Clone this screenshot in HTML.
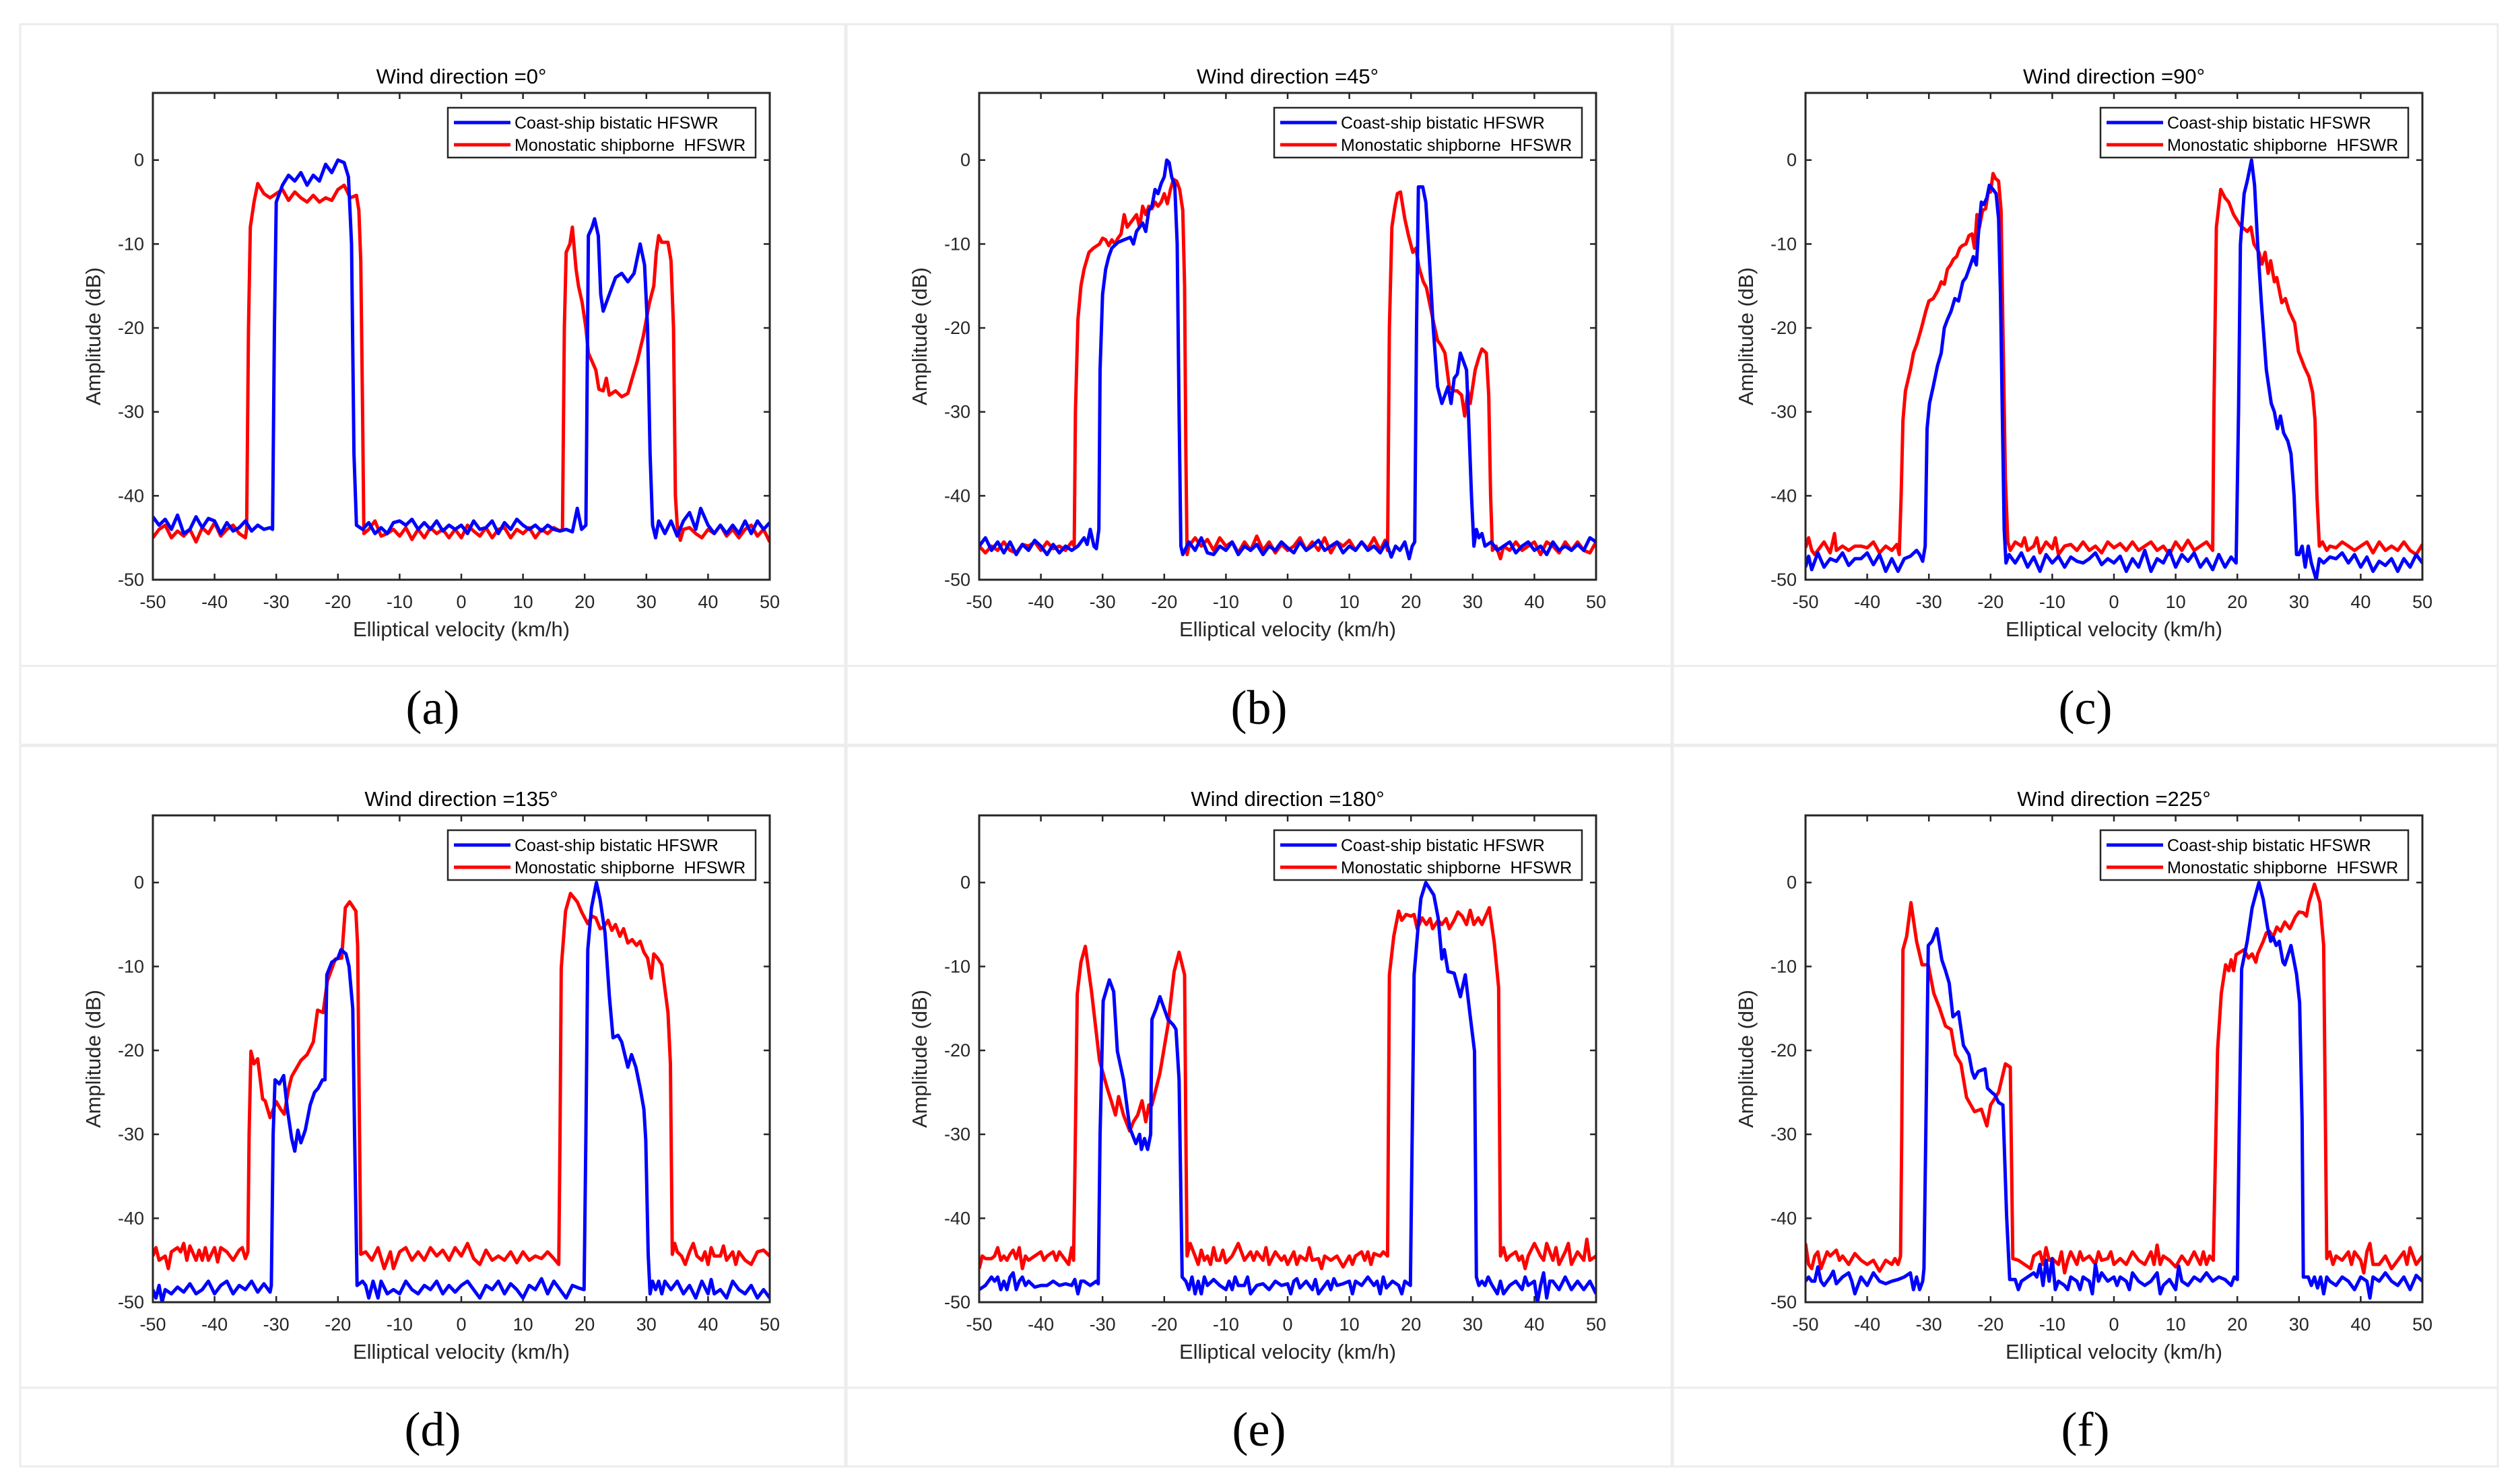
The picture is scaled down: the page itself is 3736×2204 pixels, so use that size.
<!DOCTYPE html>
<html><head><meta charset="utf-8"><style>
html,body{margin:0;padding:0;background:#fff;}
svg{display:block;font-family:"Liberation Sans",Arial,sans-serif;}
text{white-space:pre;}
</style></head><body>
<svg id="fig" width="3736" height="2204" viewBox="0 0 3736 2204" xmlns="http://www.w3.org/2000/svg">
<rect x="0" y="0" width="3736" height="2204" fill="#fff"/>
<g id="cells"></g>
<g id="panels"></g>
</svg>
<script>
const xTicks=[-50,-40,-30,-20,-10,0,10,20,30,40,50];
const yTicks=[0,-10,-20,-30,-40,-50];
const titles=["Wind direction =0°","Wind direction =45°","Wind direction =90°","Wind direction =135°","Wind direction =180°","Wind direction =225°"];
const letters=["(a)","(b)","(c)","(d)","(e)","(f)"];
const legendLabels=["Coast-ship bistatic HFSWR","Monostatic shipborne  HFSWR"];

const bistaticA=[[-50,-42.5],[-49,-43.5],[-48,-42.8],[-47,-44],[-46,-42.3],[-45,-44.5],[-44,-44],[-43,-42.5],[-42,-43.8],[-41,-42.7],[-40,-43],[-39,-44.5],[-38,-43.2],[-37,-44.2],[-36,-43.8],[-35,-43],[-34,-44.2],[-33,-43.5],[-32,-44],[-31,-43.8],[-30.6,-44],[-30.3,-20],[-30,-5],[-29,-3],[-28,-1.8],[-27,-2.5],[-26,-1.5],[-25,-3],[-24,-1.8],[-23,-2.5],[-22,-0.5],[-21,-1.5],[-20,0],[-19,-0.3],[-18.3,-2],[-17.8,-10],[-17.4,-35],[-17,-43.5],[-16,-44],[-15,-43.2],[-14,-44.5],[-13,-43.8],[-12,-44.5],[-11,-43.2],[-10,-43],[-9,-43.5],[-8,-42.8],[-7,-44],[-6,-43.2],[-5,-44],[-4,-43],[-3,-44.2],[-2,-43.5],[-1,-44],[0,-43.5],[1,-44.5],[2,-43],[3,-44],[4,-43.8],[5,-43],[6,-44.5],[7,-43.2],[8,-44],[9,-42.8],[10,-43.5],[11,-44],[12,-43.5],[13,-44.2],[14,-43.5],[15,-44],[16,-44.2],[17,-44],[18,-44.3],[18.8,-41.5],[19.5,-44],[20.2,-43.5],[20.6,-9],[21.2,-8],[21.6,-7],[22.2,-9],[22.6,-16],[23,-18],[24,-16],[25,-14],[26,-13.5],[27,-14.5],[28,-13.5],[29,-10],[29.7,-12.5],[30.2,-20],[30.6,-35],[31,-43.5],[31.5,-45],[32,-43],[33,-44.5],[34,-43],[35,-44.8],[36,-43],[37,-42],[38,-44],[38.8,-41.5],[40,-43.5],[41,-44.5],[42,-43.5],[43,-44.5],[44,-43.5],[45,-44.5],[46,-43],[47,-44.5],[48,-43],[49,-44],[50,-43.2]];
const monoA=[[-50,-45],[-49,-44],[-48,-43.5],[-47,-45],[-46,-44.2],[-45,-44.8],[-44,-44],[-43,-45.5],[-42,-43.8],[-41,-44.5],[-40,-43.2],[-39,-44.8],[-38,-44],[-37,-43.5],[-36,-44.5],[-35,-45],[-34.8,-44],[-34.5,-20],[-34.2,-8],[-33.6,-5],[-33,-2.8],[-32,-4],[-31,-4.5],[-30,-4],[-29,-3.5],[-28,-4.8],[-27,-3.8],[-26,-4.5],[-25,-5],[-24,-4.2],[-23,-5],[-22,-4.5],[-21,-4.8],[-20,-3.5],[-19,-3],[-18,-4.5],[-17,-4.2],[-16.6,-6],[-16.3,-12],[-16,-30],[-15.8,-44.5],[-15,-44],[-14,-43],[-13,-44.8],[-12,-44.5],[-11,-44],[-10,-44.8],[-9,-43.8],[-8,-45.2],[-7,-44],[-6,-45],[-5,-43.8],[-4,-44.5],[-3,-44],[-2,-45],[-1,-44],[0,-45],[1,-43.5],[2,-44.2],[3,-44.8],[4,-43.8],[5,-45],[6,-44],[7,-43.8],[8,-45],[9,-44],[10,-44.5],[11,-43.8],[12,-45],[13,-44],[14,-44.5],[15,-43.8],[16,-44.2],[16.4,-44],[16.7,-20],[17,-11],[17.6,-10],[18,-8],[18.6,-13],[19,-15],[19.6,-17],[20.2,-20],[20.6,-23],[21.2,-24],[21.8,-25],[22.3,-27.3],[23,-27.5],[23.5,-26],[24,-28],[25,-27.5],[26,-28.2],[27,-27.8],[27.5,-26.5],[28.5,-24],[29.5,-21],[30.5,-17],[31.2,-15],[31.6,-11],[32,-9],[32.5,-9.8],[33.5,-9.8],[34,-12],[34.4,-20],[34.7,-40],[35,-43.5],[35.5,-45.3],[36,-44],[37,-43.8],[38,-44.5],[39,-45],[40,-44],[41,-44.5],[42,-43.5],[43,-44.8],[44,-44],[45,-45],[46,-44],[47,-43.5],[48,-44.8],[49,-44],[50,-45.5]];
const bistaticB=[[-50,-46],[-49,-45],[-48,-46.5],[-47,-45.5],[-46,-46.8],[-45,-45.5],[-44,-47],[-43,-45.8],[-42,-46.5],[-41,-45.3],[-40,-46],[-39,-47],[-38,-45.8],[-37,-46.8],[-36,-46],[-35,-46.5],[-34,-46],[-33,-45],[-32.5,-45.8],[-32,-44],[-31.4,-46],[-31,-46.3],[-30.6,-44],[-30.4,-25],[-30,-16],[-29.5,-13],[-29,-11.5],[-28.5,-10.5],[-27.5,-9.8],[-26.5,-9.5],[-25.5,-9.2],[-25,-10],[-24.5,-8.5],[-23.5,-7.5],[-23,-8.5],[-22.5,-6],[-22,-5.5],[-21.5,-3.5],[-21,-4],[-20.5,-2.8],[-20,-2],[-19.6,0],[-19.2,-0.3],[-18.8,-2],[-18.3,-3],[-17.9,-10],[-17.6,-30],[-17.3,-46],[-17,-47],[-16,-45.5],[-15,-46.5],[-14,-45],[-13,-46.8],[-12,-47],[-11,-46],[-10,-46.5],[-9,-45.5],[-8,-47],[-7,-46],[-6,-46.5],[-5,-45.8],[-4,-47],[-3,-46],[-2,-46.5],[-1,-45.5],[0,-46.2],[1,-46.8],[2,-45.5],[3,-46.5],[4,-46],[5,-45.3],[6,-46.5],[7,-46],[8,-45.5],[9,-46.8],[10,-46],[11,-46.5],[12,-45.5],[13,-46.5],[14,-46],[15,-46.8],[16,-45.5],[16.8,-47.3],[17.5,-46],[18.2,-46.5],[19,-45.5],[19.7,-47.5],[20.2,-46],[20.6,-45.5],[20.9,-20],[21.2,-3.2],[21.9,-3.2],[22.4,-5],[23,-12],[23.6,-20],[24.3,-27],[25,-29],[25.5,-28],[26,-27],[26.5,-29],[27,-26],[27.5,-25.5],[28,-23],[28.5,-24],[29,-25],[29.3,-30],[29.8,-40],[30.2,-46],[30.6,-44],[31,-45],[31.5,-44.5],[32,-46],[33,-45.5],[34,-46.5],[35,-46],[36,-45.5],[37,-46.8],[38,-46],[39,-45.5],[40,-46.5],[41,-46],[42,-47],[43,-45.5],[44,-46.5],[45,-46],[46,-46.5],[47,-45.8],[48,-46.5],[49,-45],[50,-45.5]];
const monoB=[[-50,-46],[-49,-46.8],[-48,-46],[-47,-46.5],[-46,-45.5],[-45,-46.5],[-44,-46.8],[-43,-45.8],[-42,-46],[-41,-45.5],[-40,-46.5],[-39,-45.5],[-38,-46.3],[-37,-46],[-36,-46.5],[-35,-45.5],[-34.6,-46],[-34.4,-30],[-34,-19],[-33.5,-15],[-33,-13],[-32.2,-11],[-31.5,-10.5],[-30.5,-10],[-30,-9.3],[-29.5,-9.5],[-29,-10.2],[-28.5,-9.5],[-28,-10],[-27.5,-9.3],[-27,-8.8],[-26.5,-6.5],[-26,-8],[-25.5,-7.5],[-25,-7],[-24.5,-6.5],[-24,-8],[-23.5,-5.5],[-23,-6.5],[-22.5,-5.5],[-22,-5.8],[-21.5,-5],[-21,-5.5],[-20.5,-5],[-20,-4],[-19.5,-5.2],[-19,-3.5],[-18.5,-2.3],[-18,-2.5],[-17.5,-3.5],[-17,-6],[-16.7,-15],[-16.5,-35],[-16.3,-47],[-16,-46],[-15,-45],[-14,-46],[-13,-45.2],[-12,-46.5],[-11,-45],[-10,-46],[-9,-45.5],[-8,-46.8],[-7,-45.5],[-6,-46.5],[-5,-44.8],[-4,-46.5],[-3,-45.5],[-2,-46.8],[-1,-45.8],[0,-46.5],[1,-46],[2,-45],[3,-46.5],[4,-45.5],[5,-46.5],[6,-45],[7,-46.8],[8,-45.5],[9,-46],[10,-45.3],[11,-46.5],[12,-45.5],[13,-46.3],[14,-45],[15,-46.5],[15.8,-45.3],[16.2,-46.5],[16.5,-20],[16.9,-8],[17.4,-5.5],[17.8,-4],[18.3,-3.8],[19,-7],[19.6,-9],[20.3,-11],[20.8,-10.5],[21.3,-12.8],[22,-14.5],[22.5,-15.2],[23,-17],[23.7,-19.5],[24.3,-21.5],[24.8,-22],[25.5,-23],[26.2,-27],[27,-27.5],[27.5,-27.5],[28.2,-28],[28.7,-30.5],[29.2,-27.5],[29.6,-29],[30.4,-25],[31,-23.5],[31.5,-22.5],[32.2,-23],[32.6,-28],[32.9,-40],[33.2,-46.5],[33.8,-46],[34.5,-47.5],[35,-46],[36,-46.5],[37,-45.5],[38,-46.5],[39,-46],[40,-45.5],[41,-47],[42,-45.5],[43,-46],[44,-46.8],[45,-45.5],[46,-46.5],[47,-45.5],[48,-46.5],[49,-46.8],[50,-45.5]];
const bistaticC=[[-50,-48.5],[-49.5,-47.2],[-49,-48.8],[-48,-46.8],[-47,-48.5],[-46,-47.5],[-45,-47.8],[-44,-46.8],[-43,-48.3],[-42,-47.5],[-41,-47.5],[-40,-46.8],[-39,-48.2],[-38,-47],[-37,-49],[-36,-47.5],[-35,-49],[-34,-47.5],[-33,-47.2],[-32,-46.5],[-31.5,-47],[-31,-47.8],[-30.6,-46],[-30.3,-32],[-29.9,-29],[-29.3,-27],[-28.6,-24.5],[-28,-23],[-27.5,-20],[-27,-19],[-26.4,-18],[-25.8,-16.5],[-25.2,-16.8],[-24.5,-14.5],[-24,-14],[-23.5,-13],[-22.8,-11.5],[-22.3,-12.5],[-22,-9],[-21.5,-5],[-21.1,-5.3],[-20.6,-4.5],[-20.2,-3],[-19.6,-3.5],[-19.1,-4],[-18.7,-7],[-18.4,-16],[-18.1,-30],[-17.8,-44],[-17.5,-48],[-17,-47],[-16,-48],[-15,-46.8],[-14,-48.5],[-13,-47.3],[-12,-49],[-11,-47],[-10,-48],[-9,-47.2],[-8,-48.5],[-7,-47.3],[-6,-47.8],[-5,-48],[-4,-47.5],[-3,-46.8],[-2,-48.2],[-1,-47.5],[0,-48],[1,-47.2],[2,-49],[3,-47.5],[4,-48.5],[5,-46.5],[6,-49],[7,-47.5],[8,-48],[9,-46.5],[10,-48.5],[11,-47],[12,-47.8],[13,-46.8],[14,-48.5],[15,-47.5],[16,-48.8],[17,-47],[18,-48.5],[19,-47.3],[19.8,-48],[20.2,-30],[20.5,-10],[21.1,-4],[21.6,-2.5],[22.3,0],[22.8,-3],[23.3,-10],[23.9,-17],[24.7,-25],[25.5,-29],[26,-30],[26.5,-32],[27,-30.5],[27.5,-32.5],[28.2,-33.5],[28.7,-35],[29.2,-40],[29.6,-47],[30,-47],[30.5,-46],[31,-48.5],[31.5,-46],[32,-48],[32.8,-50],[33.3,-47.5],[34,-48],[35,-47.3],[36,-47.5],[37,-46.8],[38,-48],[39,-47],[40,-48.5],[41,-47.3],[42,-49],[43,-47.8],[44,-48.3],[45,-47.5],[46,-49],[47,-47.5],[48,-48.5],[49,-47],[50,-48]];
const monoC=[[-50,-46.2],[-49.5,-45],[-49,-46.5],[-48.5,-47],[-48,-46.5],[-47,-45.5],[-46,-46.8],[-45.3,-44.5],[-45,-46.5],[-44,-46],[-43,-46.5],[-42,-46],[-41,-46],[-40,-46.2],[-39,-45.5],[-38,-46.8],[-37,-46],[-36,-46.5],[-35.2,-45.8],[-34.8,-47],[-34.5,-40],[-34.2,-31],[-33.8,-27.5],[-33,-25],[-32.5,-23],[-31.9,-21.8],[-31.2,-20],[-30.5,-18],[-30,-16.8],[-29.3,-16.5],[-28.5,-15.5],[-28,-14.5],[-27.5,-14.8],[-27,-13],[-26.5,-12.5],[-26,-11.8],[-25.5,-11.5],[-25,-10.5],[-24.6,-10.2],[-24,-10],[-23.5,-9],[-23,-8.8],[-22.6,-10.5],[-22.2,-6.5],[-21.8,-8],[-21.3,-6],[-20.8,-5.8],[-20.4,-3.9],[-20,-3.8],[-19.6,-1.6],[-19.2,-2.2],[-18.7,-2.5],[-18.3,-6],[-18,-20],[-17.6,-38],[-17.2,-45.5],[-16.8,-46.5],[-16,-45.5],[-15,-46],[-14.5,-45],[-14,-46.5],[-13,-46],[-12.5,-45],[-12,-46.8],[-11,-45.5],[-10,-46.3],[-9.5,-45],[-9,-47],[-8,-46],[-7,-45.8],[-6,-46.5],[-5,-45.5],[-4,-46.5],[-3,-46],[-2,-46.8],[-1,-45.5],[0,-46.2],[1,-45.7],[2,-46.5],[3,-45.5],[4,-46.5],[5,-46],[6,-45.5],[7,-46.5],[8,-46],[9,-47],[10,-45.5],[11,-46.5],[12,-45.3],[13,-46.5],[14,-46],[15,-45.5],[16,-46.5],[16.2,-30],[16.6,-8],[17.3,-3.5],[18,-4.5],[18.6,-5],[19.4,-6.5],[20.5,-7.8],[21.6,-8.5],[22.2,-8],[22.7,-10],[23.5,-11],[24,-12.4],[24.5,-11],[25,-13.5],[25.4,-12],[26,-14.5],[26.4,-14],[27.2,-17],[27.8,-16.5],[28.4,-18],[29.3,-19.4],[29.9,-22.8],[30.9,-24.7],[31.6,-25.8],[32.2,-27.7],[32.6,-31],[32.9,-40],[33.3,-46],[33.8,-45.5],[34.5,-46.5],[35,-46],[36,-46.2],[37,-45.5],[38,-46],[39,-46.5],[40,-46],[41,-45.5],[42,-46.8],[43,-45.5],[44,-46.5],[45,-46],[46,-46.5],[47,-45.5],[48,-46.5],[49,-47],[50,-45.8]];
const bistaticD=[[-50,-48.5],[-49.5,-49.5],[-49,-48],[-48.5,-50],[-48,-48.5],[-47,-49],[-46,-48.2],[-45,-48.8],[-44,-47.8],[-43,-49],[-42,-48.5],[-41,-47.5],[-40,-49],[-39,-48],[-38,-47.5],[-37,-49],[-36,-48],[-35,-48.5],[-34,-47.5],[-33,-48.8],[-32,-47.8],[-31,-48.8],[-30.8,-48],[-30.5,-30],[-30.2,-23.5],[-29.5,-24],[-28.8,-23],[-28.2,-27],[-27.5,-30.5],[-27,-32],[-26.5,-29.5],[-26,-31],[-25.3,-29.5],[-24.5,-26.5],[-23.8,-25],[-23.2,-24.5],[-22.5,-23.5],[-22.1,-23.5],[-21.8,-11],[-21,-9.5],[-20,-9],[-19.5,-8],[-18.7,-8.5],[-18.2,-10],[-17.6,-15],[-17.3,-30],[-16.9,-48],[-16,-47.5],[-15.5,-48],[-15,-49.5],[-14.3,-47.5],[-13.5,-49.5],[-13,-47.5],[-12,-49],[-11,-48.5],[-10,-49],[-9,-47.5],[-8,-48.5],[-7,-49],[-6,-48],[-5,-48.5],[-4,-47.5],[-3,-49],[-2,-48],[-1,-48.8],[0,-48],[1,-47.5],[2,-48.5],[3,-49.5],[4,-48],[5,-48.5],[6,-47.5],[7,-49],[8,-47.8],[9,-48.5],[10,-49.5],[11,-48],[12,-48.5],[13,-47.2],[14,-49],[15,-47.5],[16,-48.5],[17,-49.5],[18,-48],[19,-48.3],[19.9,-48.5],[20.2,-30],[20.5,-8],[21.1,-3],[21.9,0],[22.5,-2],[23.3,-6],[24,-13.5],[24.6,-18.5],[25.4,-18.2],[26,-19],[27,-22],[27.6,-20.5],[28.3,-22],[29,-24.5],[29.6,-27],[29.9,-30.7],[30.3,-44.3],[30.6,-49],[31,-47.5],[31.5,-48.5],[32,-47.5],[32.5,-49],[33,-47.5],[34,-48.5],[35,-47.5],[36,-49],[37,-48],[38,-49.5],[39,-47.5],[40,-49],[40.5,-47.3],[41,-49],[42,-48.5],[43,-49.5],[44,-47.5],[45,-48.5],[46,-49],[47,-48],[48,-49.5],[49,-48.5],[50,-49.5]];
const monoD=[[-50,-44.5],[-49.5,-43.5],[-49,-45],[-48,-44.5],[-47.5,-46],[-47,-44],[-46,-43.5],[-45.5,-44],[-45,-43],[-44.5,-45],[-44,-43.3],[-43,-45],[-42.5,-43.8],[-42,-45],[-41.5,-43.5],[-41,-45],[-40,-43.5],[-39.5,-45.2],[-39,-43.5],[-38,-44],[-37,-45],[-36,-43.8],[-35.5,-43.5],[-35,-44.8],[-34.6,-44],[-34.4,-30],[-34.1,-20.1],[-33.6,-21.6],[-33,-21],[-32.2,-25.8],[-31.8,-26],[-31,-28],[-30,-26.1],[-29.3,-27],[-28.7,-27.6],[-28,-24.6],[-27.5,-23.1],[-26,-21.2],[-25,-20.5],[-24,-19],[-23.3,-15.2],[-22.4,-15.5],[-21.7,-11.7],[-20.4,-9.1],[-19.4,-9],[-18.8,-3],[-18.1,-2.3],[-17.1,-3.4],[-16.8,-7.6],[-16.5,-30],[-16.3,-44.3],[-15.5,-44],[-14.5,-45],[-13.5,-43.5],[-12.5,-46],[-11.5,-44],[-11,-46],[-10,-44],[-9,-43.5],[-8,-45],[-7,-44],[-6,-45],[-5,-43.5],[-4,-44.5],[-3,-43.8],[-2,-45],[-1,-43.5],[0,-44.5],[1,-43],[2,-44.8],[3,-45.5],[4,-43.8],[5,-45],[6,-44.5],[7,-45],[8,-44],[9,-45.3],[10,-44],[11,-45],[12,-44.5],[13,-44.8],[14,-44],[15,-44.8],[15.8,-45.5],[16,-30],[16.2,-10.2],[16.9,-3.4],[17.7,-1.3],[18.8,-2.3],[19.5,-3.5],[20.5,-4.9],[21.2,-4],[21.8,-4.2],[22.5,-5.5],[23.1,-5.3],[23.8,-4.5],[24.4,-5.7],[25,-5],[25.7,-6.4],[26.3,-5.5],[27,-7.2],[27.7,-6.8],[28.4,-7.5],[29,-7],[29.6,-8.3],[30.2,-9],[30.8,-11.4],[31.2,-8.5],[31.8,-9],[32.5,-9.8],[33.5,-15.5],[33.9,-21.6],[34.2,-44.3],[34.6,-43],[35,-44],[35.7,-44.5],[36.3,-45.5],[37,-44],[37.6,-43],[38.2,-44.5],[39,-45],[39.5,-44],[40,-45.5],[40.5,-43.5],[41,-44.5],[42,-44.5],[42.5,-43.3],[43,-45],[44,-44],[44.5,-45.5],[45,-44],[46,-45],[47,-45.5],[48,-44],[49,-43.8],[50,-44.5]];
const bistaticE=[[-50,-48.5],[-49,-48],[-48,-47],[-47.5,-47.5],[-47,-47],[-46.5,-48.5],[-46,-47.5],[-45.5,-48.5],[-45,-47],[-44.5,-46.5],[-44,-48.5],[-43.5,-47.5],[-43,-47],[-42.5,-48],[-42,-47.5],[-41,-48.2],[-40,-48],[-39,-48],[-38,-47.5],[-37,-48],[-36,-47.8],[-35,-48],[-34.5,-47.3],[-34,-49],[-33.5,-47.5],[-33,-47.5],[-32,-48],[-31,-47.5],[-30.7,-47.8],[-30.4,-30],[-29.9,-14.1],[-28.9,-11.6],[-28.2,-13],[-27.6,-20.1],[-26.6,-23.5],[-25.6,-29.2],[-24.6,-31.1],[-24,-30],[-23.7,-31.8],[-23.2,-30.5],[-22.7,-31.8],[-22.2,-30],[-22,-16.3],[-21.3,-15],[-20.7,-13.6],[-19.4,-16.3],[-18.5,-17],[-18.1,-17.5],[-17.6,-23.5],[-17.1,-47],[-16.5,-47.5],[-16,-48.5],[-15.5,-47],[-15,-49],[-14.5,-47.5],[-14,-49],[-13.5,-47],[-13,-48],[-12,-47.3],[-11,-48],[-10,-48.5],[-9.5,-47.5],[-9,-48.5],[-8.5,-47],[-8,-48],[-7,-48],[-6.5,-47],[-6,-49],[-5,-48],[-4,-47.8],[-3,-48.5],[-2,-47.5],[-1,-48],[0,-47.8],[0.5,-49],[1,-47.5],[1.5,-47.2],[2,-48.3],[3,-47.5],[4,-48.5],[4.5,-47.3],[5,-49],[6,-48],[6.5,-47.5],[7,-48.5],[7.5,-47.2],[8,-48],[9,-47.8],[10,-47.5],[10.5,-49],[11,-47.5],[12,-48],[13,-47],[14,-48],[14.5,-47.5],[15,-49],[15.5,-47],[16,-48.3],[17,-47.5],[18,-48],[18.5,-49],[19,-47.5],[19.9,-48],[20.5,-11],[21.1,-5.7],[21.6,-1.9],[22.4,0],[23.7,-1.5],[24.4,-4.2],[25,-9.1],[25.4,-8],[26,-10.6],[27,-10.8],[28,-13.6],[28.8,-11],[29.6,-15.9],[30.3,-20.1],[30.6,-47],[31,-48],[31.5,-47.5],[32,-48],[32.5,-47],[33,-47.8],[34,-49],[34.5,-47.5],[35,-49],[36,-48],[37,-47.5],[38,-48.5],[38.5,-47],[39,-48],[40,-47.5],[40.5,-50],[41,-48],[41.5,-46.5],[42,-49.5],[42.5,-47.5],[43,-47.5],[44,-48.5],[45,-47],[46,-48.5],[47,-47.5],[48,-48.5],[49,-47.5],[50,-49]];
const monoE=[[-50,-46],[-49.5,-44.5],[-49,-44.8],[-48,-44.8],[-47.5,-44.5],[-47,-43.5],[-46.5,-45],[-46,-44.5],[-45.5,-45],[-45,-44.3],[-44.5,-43.8],[-44,-44.8],[-43.5,-43.5],[-43,-46],[-42.5,-44.5],[-42,-45],[-41,-44.5],[-40,-44],[-39.5,-45],[-39,-44.5],[-38,-44],[-37.5,-45],[-37,-44],[-36,-45],[-35.5,-45.5],[-35,-43.5],[-34.7,-45],[-34.5,-35],[-34.1,-13.3],[-33.5,-9.5],[-32.8,-7.6],[-31.8,-12.9],[-30.5,-21.2],[-29.2,-24.6],[-28.6,-26],[-27.9,-27.7],[-27.4,-25.5],[-26.6,-27.7],[-25.6,-29.6],[-25,-28.5],[-24.3,-27.7],[-23.6,-26],[-23,-28.5],[-22.5,-26.5],[-22,-26.5],[-20.7,-22.7],[-19.4,-17],[-18.4,-10.6],[-17.6,-8.3],[-16.7,-11],[-16.5,-30],[-16.3,-44.5],[-15.8,-43],[-15,-44.5],[-14.5,-45.5],[-14,-43.8],[-13.5,-45],[-13,-44.5],[-12.5,-45.5],[-12,-43.5],[-11.5,-45],[-11,-45],[-10.5,-43.8],[-10,-45.3],[-9,-44.5],[-8,-43],[-7.5,-44],[-7,-45],[-6,-44],[-5.5,-45],[-5,-44],[-4,-45],[-3.5,-43.5],[-3,-45.5],[-2,-44],[-1,-45],[-0.5,-44.5],[0,-45.5],[1,-44],[1.5,-45.5],[2,-44.5],[3,-45],[3.5,-43.5],[4,-45],[5,-44.8],[5.5,-46],[6,-44.5],[7,-45],[8,-44.5],[9,-45.8],[10,-44.5],[10.5,-45.5],[11,-44.5],[12,-44],[12.5,-45],[13,-44],[13.5,-45.5],[14,-44.2],[15,-44.5],[15.5,-44],[16.2,-44.5],[16.5,-11],[17.2,-6.4],[18,-3.4],[18.5,-4.5],[19.2,-3.8],[20,-4],[20.5,-3.8],[21,-5.5],[21.8,-4.2],[22.5,-5],[23.1,-4.3],[23.5,-5.5],[24.4,-4.5],[25,-5],[25.7,-4.3],[26.2,-5.5],[27,-4.5],[27.6,-3.5],[28.3,-4],[29,-5],[29.6,-3.3],[30.2,-5],[30.9,-4.2],[31.5,-5],[32.7,-3],[33.5,-7.2],[34.2,-12.5],[34.5,-44.5],[35,-43.5],[35.5,-45],[36,-44.5],[37,-44],[37.5,-45],[38,-44.5],[38.5,-46],[39,-44.5],[40,-43],[41,-44.5],[41.5,-45],[42,-43],[43,-45],[43.5,-43.5],[44,-45.5],[45,-44],[45.5,-43],[46,-45.5],[47,-44],[48,-45],[48.5,-42.5],[49,-45],[50,-44.5]];
const bistaticF=[[-50,-47.5],[-49.5,-47],[-49,-47.5],[-48.5,-47.5],[-48,-45.8],[-47.5,-47.5],[-47,-48],[-46,-47],[-45.5,-46.3],[-45,-47.8],[-44,-47],[-43,-46.5],[-42.5,-47.5],[-42,-49],[-41,-47],[-40,-48],[-39,-46.5],[-38,-47.5],[-37,-47.8],[-36,-47.5],[-35,-47.3],[-34,-47],[-33,-46.5],[-32.5,-48.5],[-32,-47],[-31.5,-48.5],[-31,-47.5],[-30.8,-46],[-30.5,-30],[-30.1,-7.5],[-29.5,-7],[-28.7,-5.5],[-27.9,-9.2],[-27.3,-10.5],[-26.7,-12],[-26.1,-16],[-25.2,-15.4],[-24.4,-19.4],[-23.5,-20.5],[-23,-22.5],[-22.6,-23.3],[-22,-22.5],[-20.9,-22.2],[-20.5,-24.5],[-19.8,-25],[-19.3,-25.3],[-18.7,-26.2],[-18,-26.5],[-17.4,-39.7],[-16.9,-47.3],[-16,-47.3],[-15.5,-48.5],[-15,-47.5],[-14,-47],[-13,-46.5],[-12.5,-47],[-12,-45.5],[-11.5,-48],[-11,-45],[-10.5,-47.5],[-10,-44.8],[-9.5,-48.5],[-9,-47.5],[-8,-48],[-7.5,-48.5],[-7,-47],[-6,-47.5],[-5.5,-48.5],[-5,-47],[-4,-47.5],[-3.5,-49],[-3,-45.5],[-2.5,-47.5],[-2,-46.5],[-1,-47.5],[0,-47],[0.5,-48],[1,-47],[2,-47.5],[2.5,-48.5],[3,-46.5],[4,-47.5],[5,-48],[6,-47.5],[7,-46.5],[7.5,-49],[8,-48],[9,-47.3],[10,-48.5],[10.5,-45.7],[11,-47.5],[12,-48],[13,-47],[14,-47.5],[15,-46.5],[16,-47.5],[17,-47],[18,-47.3],[19,-48],[19.5,-47],[20,-47.3],[20.3,-30],[20.7,-10.3],[21.6,-7],[22.4,-3],[23.5,0],[24.2,-2],[24.9,-5.3],[25.4,-7],[25.8,-6.5],[26.3,-7.5],[26.8,-7],[27.4,-9.5],[27.7,-9.8],[28.7,-7.5],[29.6,-10.9],[30.1,-14.3],[30.5,-28.4],[30.7,-47],[31.5,-47],[32,-48],[32.5,-47],[33,-48.3],[33.5,-47],[34,-49],[34.5,-47],[35,-47.5],[36,-48],[37,-47],[38,-47.5],[39,-48.5],[40,-47],[41,-47.5],[41.5,-49.5],[42,-47],[43,-47.5],[44,-46.5],[45,-47.5],[46,-48],[47,-47],[48,-48.5],[49,-46.8],[50,-47.5]];
const monoF=[[-50,-43],[-49.5,-45.5],[-49,-46],[-48.5,-44.5],[-48,-44],[-47.5,-46],[-47,-45],[-46.5,-44],[-46,-44.5],[-45,-43.8],[-44.5,-45],[-44,-44.5],[-43,-45.5],[-42,-44.2],[-41,-45],[-40,-45.5],[-39,-45],[-38,-46.3],[-37,-45],[-36,-45.5],[-35.5,-44.8],[-35,-45.5],[-34.6,-44.5],[-34.4,-30],[-34.2,-8],[-33.6,-6.4],[-32.9,-2.4],[-32,-7],[-31.1,-9.8],[-30.1,-9.8],[-29.2,-13.2],[-28.3,-14.9],[-27.3,-17.1],[-26.4,-17.5],[-25.7,-20.5],[-24.8,-21.6],[-23.9,-25.6],[-22.6,-27.3],[-21.5,-27],[-20.6,-29],[-20,-26.5],[-18.7,-25],[-17.6,-21.6],[-16.8,-22],[-16.4,-44.8],[-15.5,-45],[-14.5,-45.5],[-13.5,-46],[-13,-44.5],[-12,-44],[-11.5,-45.5],[-11,-43.5],[-10.5,-45],[-10,-44.8],[-9,-45.5],[-8.5,-44],[-8,-46.5],[-7.5,-45],[-7,-44],[-6,-45.5],[-5.5,-44],[-5,-45],[-4,-44.5],[-3,-45.5],[-2.5,-44],[-2,-45],[-1,-44.8],[-0.5,-44],[0,-45.5],[1,-44.8],[2,-45.5],[3,-44],[4,-45],[5,-45.5],[6,-44],[6.5,-45.5],[7,-43.2],[7.5,-45.5],[8,-44.5],[9,-45],[10,-45.8],[11,-44.5],[12,-45.5],[13,-44],[14,-45.5],[14.5,-44],[15,-45.5],[15.5,-44.5],[16.1,-45],[16.8,-19.9],[17.4,-13.2],[18.1,-9.8],[18.6,-10.5],[19,-9.2],[19.4,-10.5],[19.8,-8.6],[21.1,-8],[21.8,-9],[22.4,-8.5],[23,-9.5],[23.3,-8.5],[24.2,-7],[24.7,-6],[25.2,-5.8],[25.8,-6.5],[26.4,-5.3],[27,-5.8],[27.7,-4.7],[28.5,-5.5],[29.4,-4.1],[30,-3.5],[30.7,-3.6],[31.2,-4],[31.6,-2.4],[32.5,-0.2],[33.4,-2.4],[34,-7.5],[34.5,-44.8],[35,-44],[35.5,-45.5],[36,-44.5],[37,-45],[38,-44],[38.5,-45.5],[39,-44],[40,-45],[40.5,-46.5],[41,-44],[41.5,-43],[42,-45.5],[43,-45.5],[44,-44.5],[45,-46],[46,-45],[47,-44],[47.5,-45.5],[48,-43.5],[49,-45.5],[50,-44.5]];

const bistaticSeries=[bistaticA,bistaticB,bistaticC,bistaticD,bistaticE,bistaticF];
const monoSeries=[monoA,monoB,monoC,monoD,monoE,monoF];

const NS="http://www.w3.org/2000/svg";
const XMIN=-50,XMAX=50,YMIN=-50,YMAX=8;
const PW=916,PH=723;
const colLeft=[227,1454,2681];
const rowTop=[138,1211];
const cellX=[29,1256,2483,3710];
const cellY=[[36,989,1106],[1108,2061,2178]];

function mk(tag,attrs,parent){const e=document.createElementNS(NS,tag);for(const k in attrs)e.setAttribute(k,attrs[k]);if(parent)parent.appendChild(e);return e;}

const cells=document.getElementById('cells');
for(let r=0;r<2;r++)for(let c=0;c<3;c++){
  const x=cellX[c]+1,w=cellX[c+1]-cellX[c]-2;
  const a=mk('rect',{x:x,y:cellY[r][0],width:w,height:cellY[r][1]-cellY[r][0],fill:'none',stroke:'#ececec','stroke-width':3},cells);
  
  
  const b=mk('rect',{x:x,y:cellY[r][1],width:w,height:cellY[r][2]-cellY[r][1],fill:'none',stroke:'#ececec','stroke-width':3},cells);
  
  
}

const panels=document.getElementById('panels');
for(let i=0;i<6;i++){
  const r=Math.floor(i/3),c=i%3;
  const L=colLeft[c],T=rowTop[r];
  const sx=v=>L+(v-XMIN)/(XMAX-XMIN)*PW;
  const sy=v=>T+(YMAX-v)/(YMAX-YMIN)*PH;
  const g=mk('g',{},panels);
  
  
  mk('clipPath',{id:'clip'+i},g);
  mk('rect',{x:L,y:T,width:PW,height:PH},g.lastChild);
  const tg=mk('g',{stroke:'#262626','stroke-width':2.5},g);
  xTicks.forEach(t=>{const x=sx(t);mk('line',{x1:x,y1:T+PH,x2:x,y2:T+PH-9},tg);mk('line',{x1:x,y1:T,x2:x,y2:T+9},tg);
    const tl=mk('text',{x:x,y:T+PH+42,'text-anchor':'middle','font-size':27,fill:'#262626',stroke:'none'},g);tl.textContent=t;
    
    });
  yTicks.forEach(t=>{const y=sy(t);mk('line',{x1:L,y1:y,x2:L+9,y2:y},tg);mk('line',{x1:L+PW,y1:y,x2:L+PW-9,y2:y},tg);
    const tl=mk('text',{x:L-13,y:y+9,'text-anchor':'end','font-size':27,fill:'#262626',stroke:'none'},g);tl.textContent=t;
    
    });
  const lg=mk('g',{'clip-path':'url(#clip'+i+')',fill:'none','stroke-width':5,'stroke-linejoin':'round'},g);
  const pts=s=>s.map(p=>sx(p[0]).toFixed(1)+','+sy(p[1]).toFixed(1)).join(' ');
  const pm=mk('polyline',{points:pts(monoSeries[i]),stroke:'#ff0000'},lg);
  
  
  const pb=mk('polyline',{points:pts(bistaticSeries[i]),stroke:'#0000ff'},lg);
  
  
  const box=mk('rect',{x:L,y:T,width:PW,height:PH,fill:'none',stroke:'#262626','stroke-width':3},g);
  
  
  const tt=mk('text',{x:L+PW/2,y:T-14,'text-anchor':'middle','font-size':31,fill:'#000'},g);tt.textContent=titles[i];
  
  
  const xl=mk('text',{x:L+PW/2,y:T+PH+84,'text-anchor':'middle','font-size':31,fill:'#262626'},g);xl.textContent='Elliptical velocity (km/h)';
  
  
  const yx=L-78,yy=T+PH/2;
  const yl=mk('text',{x:yx,y:yy,'text-anchor':'middle','font-size':31,fill:'#262626',transform:'rotate(-90 '+yx+' '+yy+')'},g);yl.textContent='Amplitude (dB)';
  
  
  const leg=mk('g',{},g);
  
  
  mk('rect',{x:L+438,y:T+22,width:457,height:74,fill:'#fff',stroke:'#262626','stroke-width':2.5},leg);
  const cols=['#0000ff','#ff0000'];
  [0,1].forEach(k=>{const yy2=T+44+k*33;
    mk('line',{x1:L+447,y1:yy2,x2:L+531,y2:yy2,stroke:cols[k],'stroke-width':5},leg);
    const lt=mk('text',{x:L+537,y:yy2+9,'font-size':25,fill:'#000'},leg);lt.textContent=legendLabels[k];
    
    });
  const cx=(cellX[c]+cellX[c+1])/2;
  const cap=mk('text',{x:cx,y:cellY[r][1]+86,'text-anchor':'middle','font-size':72,'font-family':'"Liberation Serif",serif',fill:'#000'},g);cap.textContent=letters[i];
  
  
}
</script>
</body></html>
